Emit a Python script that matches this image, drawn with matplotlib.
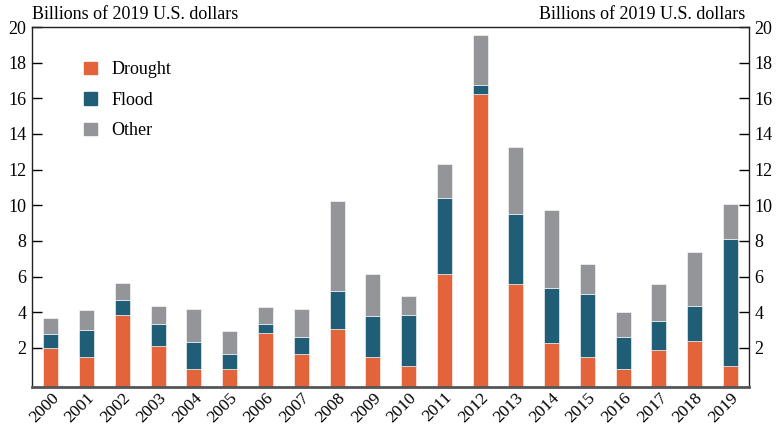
import numpy as np
import matplotlib
matplotlib.use('Agg')
import matplotlib.pyplot as plt
from matplotlib.patches import Patch

years = [str(y) for y in range(2000, 2020)]
drought = [2.0, 1.5, 3.84, 2.09, 0.83, 0.83, 2.84, 1.67, 3.03, 1.5,
           0.99, 6.12, 16.27, 5.6, 2.26, 1.5, 0.83, 1.85, 2.36, 0.99]
flood_top = [2.77, 3.0, 4.68, 3.34, 2.34, 1.67, 3.34, 2.6, 5.18, 3.77,
             3.84, 10.38, 16.77, 9.49, 5.35, 5.02, 2.6, 3.51, 4.35, 8.13]
total = [3.7, 4.1, 5.61, 4.37, 4.2, 2.93, 4.27, 4.2, 10.23, 6.12,
         4.89, 12.34, 19.54, 13.27, 9.75, 6.73, 4.03, 5.56, 7.4, 10.08]
flood = np.array(flood_top) - np.array(drought)
other = np.array(total) - np.array(flood_top)

c_drought = '#E3643B'
c_flood = '#205E78'
c_other = '#939598'

plt.rcParams['font.family'] = ['Liberation Serif', 'DejaVu Serif']

fig = plt.figure(figsize=(7.78, 4.30), dpi=100)
ax = fig.add_axes([0.0411, 0.1, 0.9216, 0.837])

x = np.arange(len(years))
y0 = -0.2
w = 0.42
ax.bar(x, np.array(drought) - y0, w, bottom=y0, color=c_drought, edgecolor='white', linewidth=0.4)
ax.bar(x, flood, w, bottom=drought, color=c_flood, edgecolor='white', linewidth=0.4)
ax.bar(x, other, w, bottom=flood_top, color=c_other, edgecolor='white', linewidth=0.4)

ax.set_xlim(-0.53, 19.52)
ax.set_ylim(y0, 20)

ax.set_yticks(range(2, 21, 2))
ax.set_yticklabels([str(v) for v in range(2, 21, 2)])
ax.tick_params(axis='y', which='both', direction='in', length=7, width=1,
               labelsize=13, left=True, right=True, labelleft=True, labelright=True, pad=4)
ax.set_xticks(x)
ax.set_xticklabels(years, rotation=45, ha='right', rotation_mode='anchor', fontsize=12.5)
ax.tick_params(axis='x', length=0, pad=2)

for s in ['left', 'right', 'top']:
    ax.spines[s].set_linewidth(1.0)
    ax.spines[s].set_color('#222222')
ax.spines['bottom'].set_linewidth(2)
ax.spines['bottom'].set_color('#555555')

fig.text(0.0411, 0.985, 'Billions of 2019 U.S. dollars', ha='left', va='top', fontsize=13)
fig.text(0.958, 0.985, 'Billions of 2019 U.S. dollars', ha='right', va='top', fontsize=13)

handles = [Patch(color=c_drought, label='Drought'),
           Patch(color=c_flood, label='Flood'),
           Patch(color=c_other, label='Other')]
ax.legend(handles=handles, loc='upper left', bbox_to_anchor=(0.05, 0.95), frameon=False,
          fontsize=13, handlelength=0.7, handleheight=0.7, handletextpad=0.8, labelspacing=0.75)

fig.savefig('out.png', dpi=100)
